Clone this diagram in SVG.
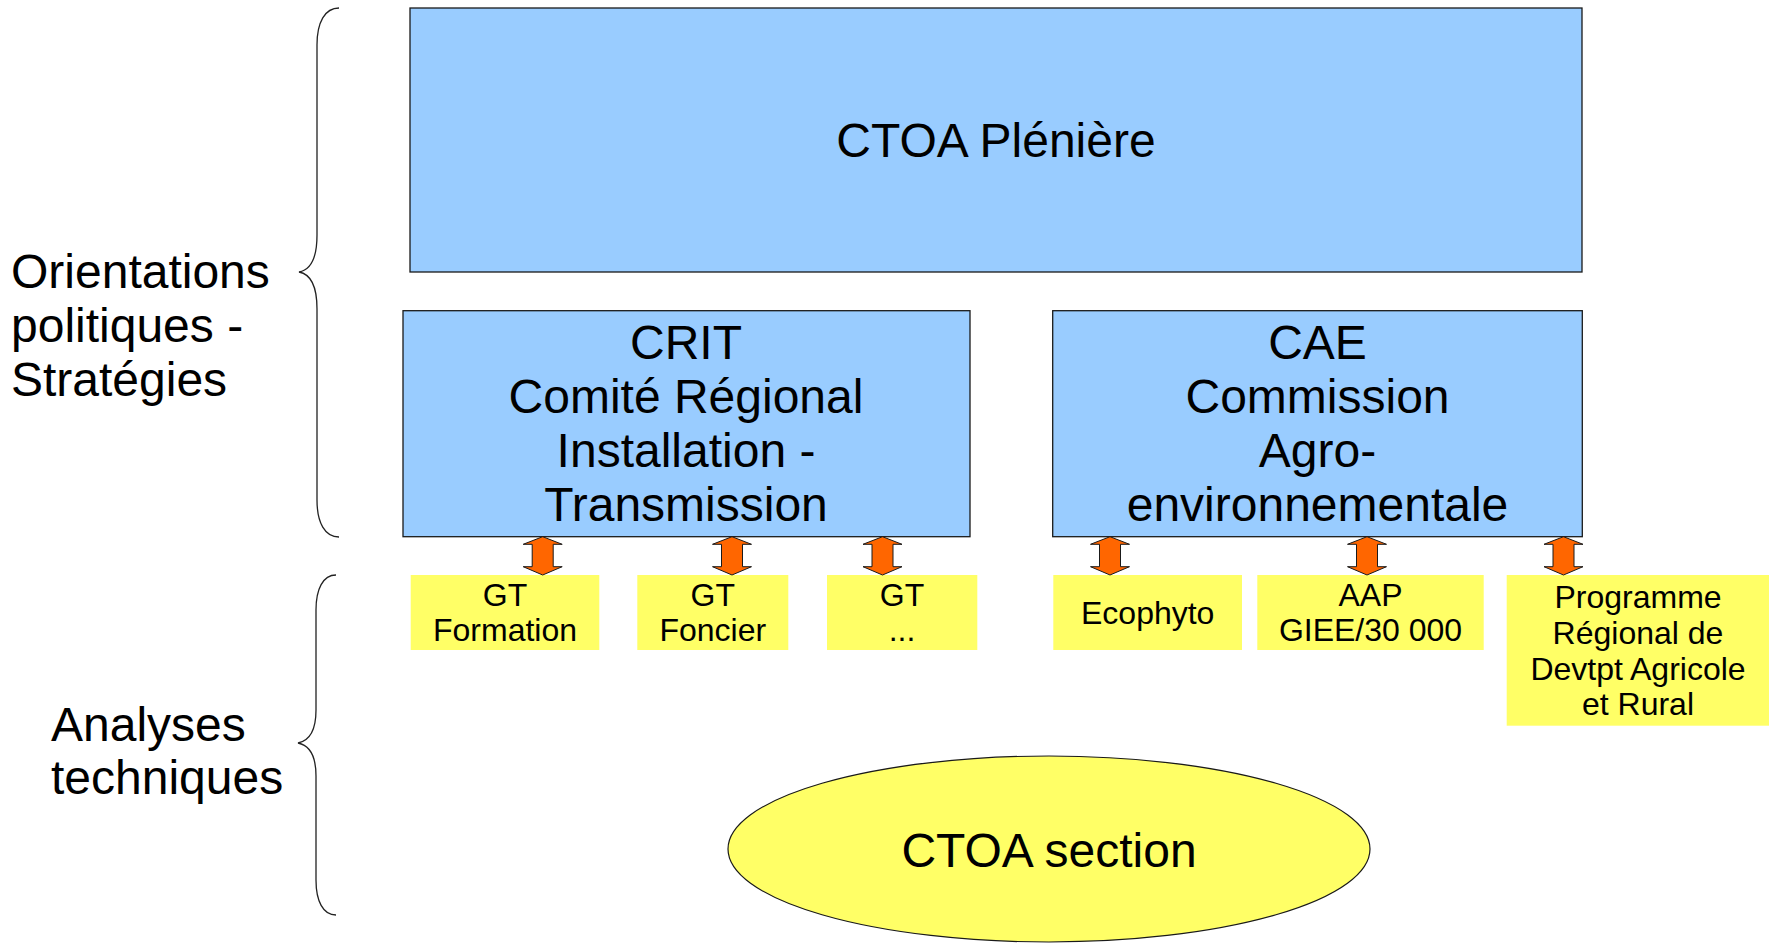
<svg xmlns="http://www.w3.org/2000/svg" width="1769" height="943" viewBox="0 0 1769 943">
<style>
.bg{fill:#ffffff}
.blue{fill:#99ccff;stroke:#1a1a1a;stroke-width:1.3}
.yel{fill:#ffff66;stroke:none}
.ell{fill:#ffff66;stroke:#1a1a1a;stroke-width:1.2}
.brace{fill:none;stroke:#222;stroke-width:1.3}
.arr{fill:#ff6600;stroke:#1a1a1a;stroke-width:1}
text{font-family:"Liberation Sans",Arial,sans-serif;fill:#000}
.big{font-size:48px;text-anchor:middle}
.side{font-size:48px}
.sm{font-size:32px;text-anchor:middle}
</style>
<defs>
<path id="dblarrow" d="M0 0 L19.5 7.6 L10.5 7.6 L10.5 30 L19.5 30 L0 38.3 L-19.5 30 L-10.5 30 L-10.5 7.6 L-19.5 7.6 Z"/>
</defs>
<rect class="bg" x="0" y="0" width="1769" height="943"/>

<g id="label-orientations">
<text class="side" x="11" y="287.5">Orientations</text>
<text class="side" x="11" y="341.5">politiques -</text>
<text class="side" x="11" y="395.5">Stratégies</text>
<path class="brace" d="M339 8 C325 8 317 22 317 45 L317 235 C317 258 310 270 299 272 C310 274 317 286 317 309 L317 500 C317 523 325 537 339 537"/>
</g>

<g id="label-analyses">
<text class="side" x="51" y="741">Analyses</text>
<text class="side" x="51" y="794">techniques</text>
<path class="brace" d="M336 575 C323 575 316 589 316 610 L316 710 C316 732 308 741 298 743 C308 745 316 754 316 776 L316 880 C316 901 323 915 336 915"/>
</g>

<g id="node-ctoa-pleniere">
<rect class="blue" x="410" y="8" width="1172" height="264"/>
<text class="big" x="996" y="157">CTOA Plénière</text>
</g>

<g id="node-crit">
<rect class="blue" x="403" y="310.7" width="567" height="226"/>
<text class="big" x="686" y="359">CRIT</text>
<text class="big" x="686" y="412.7">Comité Régional</text>
<text class="big" x="686" y="466.7">Installation -</text>
<text class="big" x="686" y="520.7">Transmission</text>
</g>

<g id="node-cae">
<rect class="blue" x="1052.7" y="310.7" width="529.6" height="226"/>
<text class="big" x="1317.5" y="359">CAE</text>
<text class="big" x="1317.5" y="412.7">Commission</text>
<text class="big" x="1317.5" y="466.7">Agro-</text>
<text class="big" x="1317.5" y="520.7">environnementale</text>
</g>

<g id="node-gt-formation">
<rect class="yel" x="410.7" y="575" width="188.6" height="75"/>
<text class="sm" x="505" y="606">GT</text>
<text class="sm" x="505" y="641">Formation</text>
</g>

<g id="node-gt-foncier">
<rect class="yel" x="637.3" y="575" width="151" height="75"/>
<text class="sm" x="712.8" y="606">GT</text>
<text class="sm" x="712.8" y="641">Foncier</text>
</g>

<g id="node-gt-autres">
<rect class="yel" x="827" y="575" width="150.3" height="75"/>
<text class="sm" x="902" y="606">GT</text>
<text class="sm" x="902" y="641">...</text>
</g>

<g id="node-ecophyto">
<rect class="yel" x="1053.3" y="575" width="188.7" height="75"/>
<text class="sm" x="1147.7" y="624">Ecophyto</text>
</g>

<g id="node-aap">
<rect class="yel" x="1257.3" y="575" width="226.4" height="75"/>
<text class="sm" x="1370.5" y="606">AAP</text>
<text class="sm" x="1370.5" y="641">GIEE/30 000</text>
</g>

<g id="node-programme">
<rect class="yel" x="1506.7" y="575" width="262.3" height="150.7"/>
<text class="sm" x="1638" y="608.3">Programme</text>
<text class="sm" x="1638" y="644">Régional de</text>
<text class="sm" x="1638" y="679.6">Devtpt Agricole</text>
<text class="sm" x="1638" y="715.2">et Rural</text>
</g>

<g id="node-ctoa-section">
<ellipse class="ell" cx="1049" cy="849" rx="321" ry="93"/>
<text class="big" x="1049" y="866.5">CTOA section</text>
</g>

<g id="connectors">
<use href="#dblarrow" class="arr" x="542.7" y="536.7"/>
<use href="#dblarrow" class="arr" x="732" y="536.7"/>
<use href="#dblarrow" class="arr" x="882.5" y="536.7"/>
<use href="#dblarrow" class="arr" x="1110" y="536.7"/>
<use href="#dblarrow" class="arr" x="1367" y="536.7"/>
<use href="#dblarrow" class="arr" x="1563.5" y="536.7"/>
</g>
</svg>
